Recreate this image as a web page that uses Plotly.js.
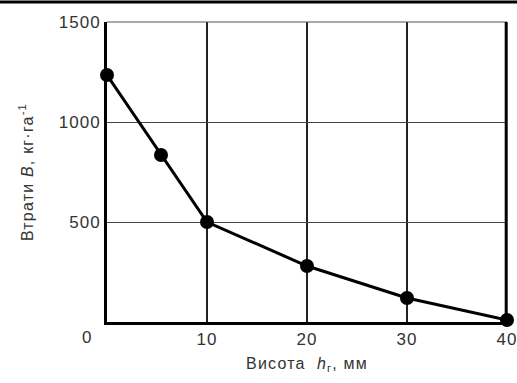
<!DOCTYPE html>
<html><head><meta charset="utf-8">
<script src="https://cdn.plot.ly/plotly-3.0.1.min.js"></script>
<style>html,body{margin:0;padding:0;background:#fff}#c{width:517px;height:383px}
.g-xtitle text,.g-ytitle text{letter-spacing:1.2px}
.xtick text,.ytick text,.annotation-text{letter-spacing:1px}
</style>
</head><body><div id="c"></div>
<script>
const heights = [0, 5.4, 10, 20, 30, 40];
const losses = [1235, 835, 500, 280, 120, 10];
const xTicks = [10, 20, 30, 40];
const yTicks = [500, 1000, 1500];
const xTitle = 'Висота&nbsp;&nbsp;<i>h</i><sub>г</sub>, мм';
const yTitle = 'Втрати <i>B</i>, кг·га<sup>-1</sup>';

const font = {family: 'Liberation Sans, Arial, sans-serif', size: 17, color: '#333'};
const tfont = {family: 'Liberation Sans, Arial, sans-serif', size: 16, color: '#333'};
Plotly.newPlot('c', [{
  x: heights, y: losses, type: 'scatter', mode: 'lines+markers',
  line: {color: '#000', width: 3},
  marker: {color: '#000', size: 14},
  cliponaxis: false, showlegend: false
}], {
  width: 517, height: 383,
  margin: {l: 107, r: 10, t: 22, b: 61},
  paper_bgcolor: '#fff', plot_bgcolor: '#fff',
  font: font,
  xaxis: {range: [0, 40], tickvals: xTicks, ticks: '', showgrid: true,
    gridcolor: '#222', gridwidth: 2, zeroline: false, ticklabeloverflow: 'allow',
    showline: true, linecolor: '#000', linewidth: 3, tickfont: font,
    title: {text: xTitle, font: tfont, standoff: 10}},
  yaxis: {range: [0, 1500], tickvals: yTicks, ticks: '', showgrid: true,
    gridcolor: '#444', gridwidth: 1, zeroline: false,
    showline: true, linecolor: '#000', linewidth: 3, tickfont: font,
    title: {text: yTitle, font: tfont, standoff: 22}},
  annotations: [{text: '0', xref: 'paper', yref: 'paper', x: -0.05, y: -0.015,
    xanchor: 'center', yanchor: 'top', showarrow: false, font: font}],
  shapes: [
    {type: 'line', xref: 'paper', yref: 'paper', x0: -0.27, x1: 1.03, y0: 1.067, y1: 1.067,
      line: {color: '#000', width: 3}},
    {type: 'line', xref: 'paper', yref: 'paper', x0: 0, x1: 1, y0: 1, y1: 1,
      line: {color: '#555', width: 1}},
    {type: 'line', xref: 'paper', yref: 'paper', x0: 0.998, x1: 0.998, y0: 0, y1: 1,
      line: {color: '#000', width: 3}}
  ]
}, {displayModeBar: false, staticPlot: true});
</script></body></html>
